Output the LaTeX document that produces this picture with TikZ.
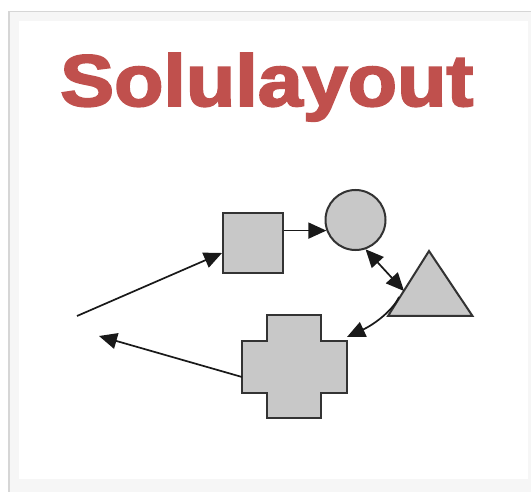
\documentclass[tikz,border=0pt]{standalone}
\usepackage{fontspec}
\setmainfont{Liberation Sans}
\newfontfamily\heavyfont{Liberation Sans}[BoldFont={Liberation Sans Bold}, BoldFeatures={FakeBold=2.5}]
\usetikzlibrary{arrows.meta}
\definecolor{titlered}{HTML}{C0504D}
\definecolor{shapefill}{HTML}{C8C8C8}
\definecolor{shapeline}{HTML}{333333}
\definecolor{bandgray}{HTML}{F6F6F6}
\definecolor{framegray}{HTML}{D6D6D6}
\tikzset{
  shapebox/.style={draw=shapeline, fill=shapefill, line width=2pt, inner sep=0pt},
  tip/.style={Triangle[length=18pt,width=16pt]},
  conn/.style={draw=black!90, line width=1.7pt, -{Triangle[length=18pt,width=16pt]}},
  dconn/.style={draw=black!90, line width=1.7pt, {Triangle[length=18pt,width=16pt]}-{Triangle[length=18pt,width=16pt]}}
}
\begin{document}
\begin{tikzpicture}[x=1pt,y=-1pt]
\useasboundingbox (0,0) rectangle (531,492);
% frame
\fill[white] (0,0) rectangle (531,492);
\fill[bandgray] (8,11) rectangle (531,492);
\draw[framegray, line width=1.5pt] (8.75,492) -- (8.75,11.75) -- (531,11.75);
\fill[white] (19,21) rectangle (528,479);
% title
\node[anchor=base west, inner sep=0pt, text=titlered] (title) at (60,106)
  {\resizebox{413pt}{53pt}{\heavyfont\bfseries Solulayout}};
% shapes
\node[shapebox, rectangle, minimum size=60pt] (sq) at (253,243) {};
\node[shapebox, circle, minimum size=60pt] (ci) at (355.5,220) {};
\filldraw[shapebox] (388,316) -- (429,251) -- (472.5,316) -- cycle;
\filldraw[shapebox] (267,315) -- (321,315) -- (321,341) -- (347,341) -- (347,393)
  -- (321,393) -- (321,418) -- (267,418) -- (267,393) -- (242,393) -- (242,341)
  -- (267,341) -- cycle;
% named points
\coordinate (start) at (77,316);
\coordinate (sqin) at (222,253);
\coordinate (sqout) at (sq.east |- ci.200);
\coordinate (trileft) at (404,291);
\coordinate (trilow) at (399,297);
\coordinate (crossne) at (347,337);
\coordinate (crossw) at (242,377);
\coordinate (left) at (99,336);
% connectors
\draw[conn] (start) -- (sqin);
\draw[conn] (sqout) -- (ci.200);
\draw[dconn] (ci.-71) -- (trileft);
\draw[conn] (trilow) .. controls (393,310) and (375,324) .. (crossne);
\draw[conn] (crossw) -- (left);
\end{tikzpicture}
\end{document}
